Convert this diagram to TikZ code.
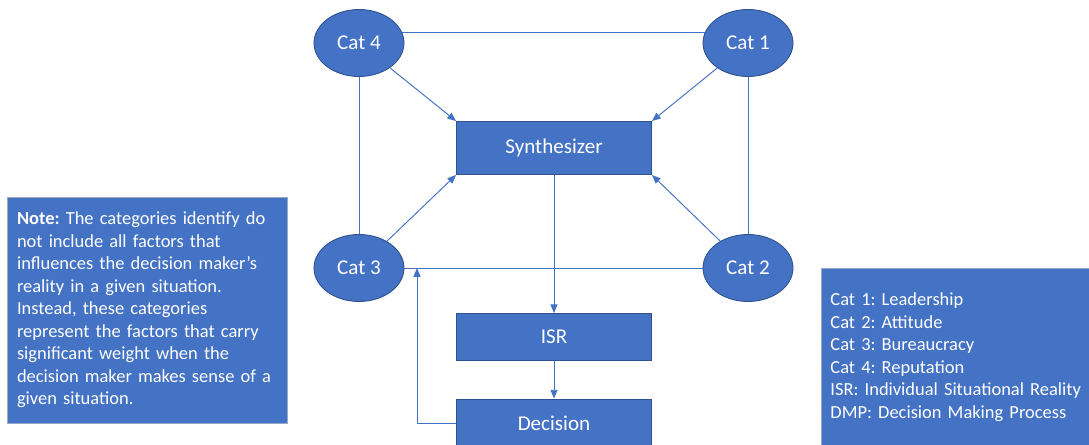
\documentclass[tikz,border=0pt]{standalone}
\usepackage{fontspec}
\setmainfont{Carlito}
\frenchspacing
\usetikzlibrary{shapes.geometric,arrows.meta}
\definecolor{catblue}{HTML}{4472C4}
\definecolor{catedge}{HTML}{2F528F}

\begin{document}
\begin{tikzpicture}[x=0.02cm, y=-0.02cm,
  every node/.style={text=white, font=\fontsize{12}{14}\selectfont},
  cat/.style={ellipse, fill=catblue, draw=catedge, line width=0.5pt, minimum width=1.8cm, minimum height=1.34cm},
  block/.style={rectangle, fill=catblue, draw=catedge, line width=0.5pt, minimum width=3.9cm},
  textbox/.style={rectangle, fill=catblue, draw=catedge!50!white, line width=0.5pt, align=left, font=\fontsize{10.5}{12.8}\selectfont},
  link/.style={draw=catblue, line width=0.55pt},
  arr/.style={link, -{Triangle[length=5pt, width=4pt]}}]

\useasboundingbox (0, 0) rectangle (1089, 445);

\node[cat] (cat4) at (359, 43) {Cat 4};
\node[cat] (cat1) at (748, 43) {Cat 1};
\node[cat] (cat3) at (359, 268) {Cat 3};
\node[cat] (cat2) at (748, 268) {Cat 2};

\node[block, minimum height=1.06cm] (synth) at (554, 148) {Synthesizer};
\node[block, minimum height=0.94cm] (isr) at (554, 337) {ISR};
\node[block, minimum height=0.96cm] (decision) at (554, 423) {Decision};

\coordinate (back) at (417, 268);

\draw[link] (cat4.13) -- (cat1.167);
\draw[link] (cat3) -- (cat2);
\draw[link] (cat4) -- (cat3);
\draw[link] (cat1) -- (cat2);

\draw[arr] (cat4) -- (synth.north west);
\draw[arr] (cat1) -- (synth.north east);
\draw[arr] (cat3) -- (synth.south west);
\draw[arr] (cat2) -- (synth.south east);

\draw[arr] (synth) -- (isr);
\draw[arr] (isr) -- (decision);
\draw[arr] (decision.west) -| (back);

\node[textbox, text width=5.2cm, inner sep=0.2cm, minimum height=4.52cm] (note) at (147, 310) {\textbf{Note:} The categories identify do\\ not include all factors that\\ influences the decision maker’s\\ reality in a given situation.\\ Instead, these categories\\ represent the factors that carry\\ significant weight when the\\ decision maker makes sense of a\\ given situation.};

\node[textbox, text width=5.2cm, inner sep=0.18cm, minimum height=3.56cm, anchor=west] (legend) at (821, 357) {Cat 1: Leadership\\ Cat 2: Attitude\\ Cat 3: Bureaucracy\\ Cat 4: Reputation\\ ISR: Individual Situational Reality\\ DMP: Decision Making Process};

\end{tikzpicture}
\end{document}
